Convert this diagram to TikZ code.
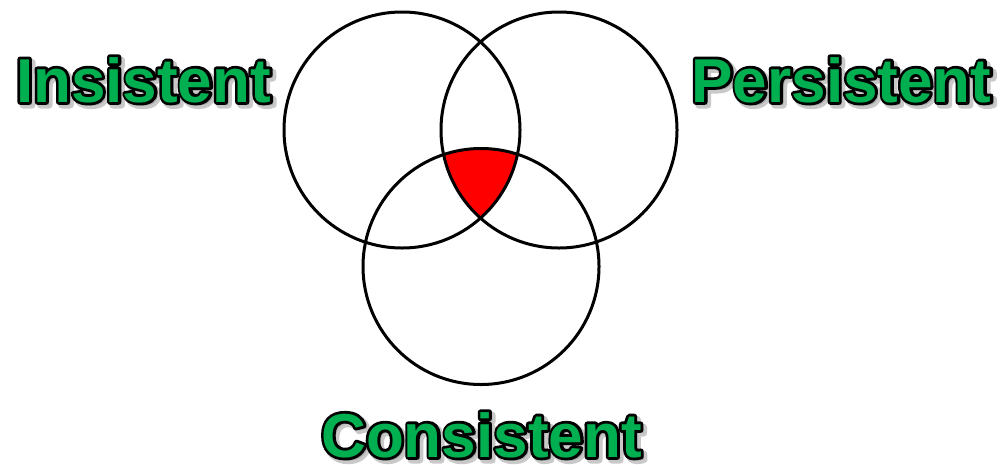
\documentclass[tikz,border=0pt]{standalone}
\usepackage{fontspec}
\setmainfont{Liberation Sans}
\definecolor{lblgreen}{RGB}{0,176,80}
\definecolor{shadowgray}{RGB}{120,120,120}
\newcommand{\outtext}[1]{\textcolor{black}{\special{pdf:literal direct 0 0 0 RG 1 j 2 Tr 5.6 w}#1\special{pdf:literal direct 0 Tr}}}
\newcommand{\shdtext}[1]{\textcolor{shadowgray}{\special{pdf:literal direct 0.47 0.47 0.47 RG 1 j 2 Tr 7 w}#1\special{pdf:literal direct 0 Tr}}}
\begin{document}
\begin{tikzpicture}[x=1pt,y=-1pt,
  ring/.style={draw=black,line width=3pt},
  lbl/.style={anchor=base,inner sep=0pt,font=\bfseries\fontsize{62}{62}\selectfont},
  fillt/.style={lbl,text=lblgreen},
  shd/.style={lbl,opacity=0.4}]
\useasboundingbox (0,0) rectangle (1000,464);
\fill[white] (0,0) rectangle (1000,464);
\coordinate (cI) at (402,130);
\coordinate (cP) at (559,130);
\coordinate (cC) at (481,266.5);
\begin{scope}
  \clip (cI) circle[radius=118];
  \clip (cP) circle[radius=118];
  \fill[red] (cC) circle[radius=118];
\end{scope}
\draw[ring] (cI) circle[radius=118];
\draw[ring] (cP) circle[radius=118];
\draw[ring] (cC) circle[radius=118];
% shadows
\node[shd] (sI) at (146.5,105) {\shdtext{Insistent}};
\node[shd] (sP) at (844.5,105) {\shdtext{Persistent}};
\node[shd] (sC) at (484.5,460) {\shdtext{Consistent}};
% outlines
\node[lbl] (oI) at (143.5,102) {\outtext{Insistent}};
\node[lbl] (oP) at (841.5,102) {\outtext{Persistent}};
\node[lbl] (oC) at (481.5,457) {\outtext{Consistent}};
% labels
\node[fillt] (tI) at (143.5,102) {Insistent};
\node[fillt] (tP) at (841.5,102) {Persistent};
\node[fillt] (tC) at (481.5,457) {Consistent};
\end{tikzpicture}
\end{document}
